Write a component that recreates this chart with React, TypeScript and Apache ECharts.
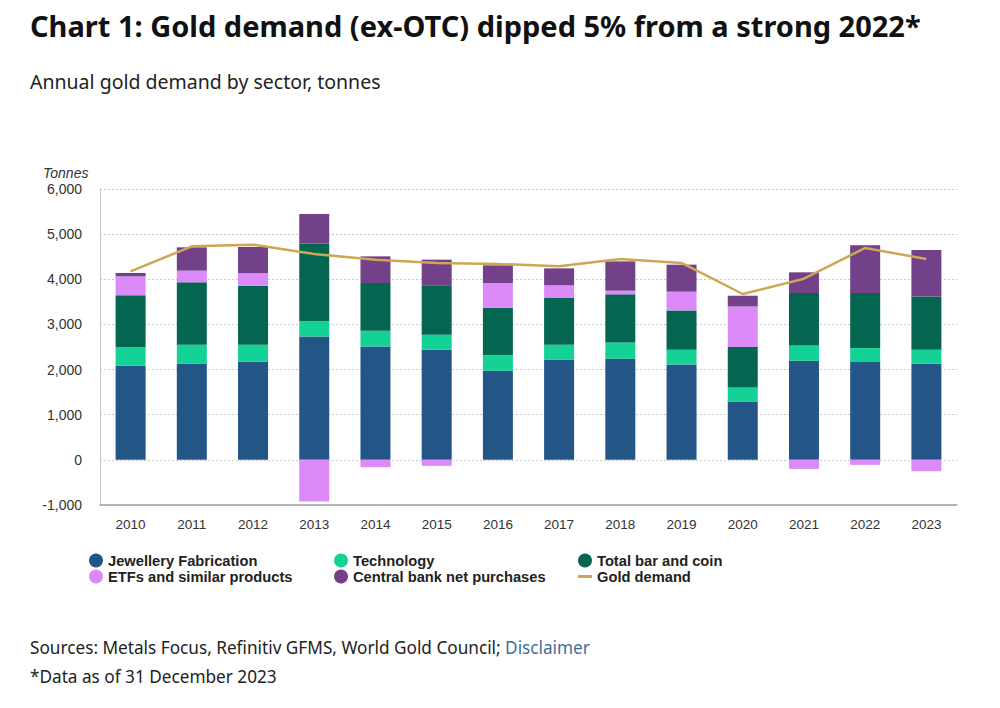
import React, { useEffect, useRef } from "react";
import * as echarts from "echarts";

const years = ["2010","2011","2012","2013","2014","2015","2016","2017","2018","2019","2020","2021","2022","2023"];
const jewellery = [2085, 2136, 2173, 2734, 2513, 2439, 1973, 2217, 2239, 2114, 1293, 2195, 2166, 2129];
const technology = [415, 414, 377, 341, 347, 333, 348, 333, 362, 325, 311, 340, 310, 310];
const barCoin = [1145, 1382, 1308, 1714, 1057, 1094, 1049, 1035, 1065, 872, 894, 1160, 1219, 1182];
const etfs = [420, 259, 273, -924, -162, -133, 547, 281, 81, 414, 902, -200, -111, -251];
const centralBank = [75, 517, 585, 658, 591, 569, 392, 376, 650, 599, 236, 459, 1057, 1029];
const goldDemand = [4176, 4730, 4767, 4560, 4435, 4361, 4339, 4287, 4449, 4361, 3674, 4013, 4694, 4449];

const COLORS = {
  jewellery: "#235687",
  technology: "#14d196",
  barCoin: "#046651",
  etfs: "#db8af8",
  centralBank: "#72418a",
  line: "#cda753",
};

const TITLE = "Chart 1: Gold demand (ex-OTC) dipped 5% from a strong 2022*";
const SUBTITLE = "Annual gold demand by sector, tonnes";
const SOURCE = "Sources: Metals Focus, Refinitiv GFMS, World Gold Council; ";
const DISCLAIMER = "Disclaimer";
const NOTE = "*Data as of 31 December 2023";

export default function App() {
  const ref = useRef<HTMLDivElement>(null);
  useEffect(() => {
    if (!ref.current) return;
    const chart = echarts.init(ref.current, null, { renderer: "svg" });
    const sans = "'Noto Sans', 'Open Sans', sans-serif";
    const arial = "'Liberation Sans', Arial, sans-serif";
    const barSeries = (name: string, data: number[], color: string) => ({
      name,
      type: "bar",
      stack: "total",
      data,
      barWidth: "49%",
      itemStyle: { color },
      emphasis: { disabled: true },
    });
    const legendCommon = {
      orient: "vertical",
      top: 548,
      itemWidth: 14,
      itemHeight: 14,
      itemGap: 1,
      icon: "circle",
      selectedMode: false,
      textStyle: { fontFamily: arial, fontSize: 14.7, fontWeight: "bold", color: "#222" },
    };
    chart.setOption({
      animation: false,
      backgroundColor: "#ffffff",
      grid: { left: 100, right: 43, top: 189, bottom: 203 },
      legend: [
        { ...legendCommon, left: 84, data: ["Jewellery Fabrication", "ETFs and similar products"] },
        { ...legendCommon, left: 329, data: ["Technology", "Central bank net purchases"] },
        {
          ...legendCommon,
          left: 573,
          data: [
            { name: "Total bar and coin", icon: "circle" },
            { name: "Gold demand", icon: "path://M0,0 L14,0 L14,3 L0,3 Z" },
          ],
        },
      ],
      xAxis: {
        type: "category",
        data: years,
        axisLine: { onZero: false, lineStyle: { color: "#a0a0a0", width: 1.5 } },
        axisTick: { show: false },
        axisLabel: { fontFamily: arial, fontSize: 13.5, color: "#333", margin: 12 },
      },
      yAxis: {
        type: "value",
        min: -1000,
        max: 6000,
        interval: 1000,
        axisLine: { show: true, lineStyle: { color: "#c8c8c8", width: 1 } },
        axisTick: { show: false },
        axisLabel: {
          fontFamily: arial,
          fontSize: 14,
          color: "#333",
          margin: 18,
          formatter: (v: number) => (v < 0 ? "-" : "") + Math.abs(v).toLocaleString("en-US"),
        },
        splitLine: { lineStyle: { color: "#c8c8c8", type: [2, 2], width: 1 } },
      },
      series: [
        barSeries("Jewellery Fabrication", jewellery, COLORS.jewellery),
        barSeries("Technology", technology, COLORS.technology),
        barSeries("Total bar and coin", barCoin, COLORS.barCoin),
        barSeries("ETFs and similar products", etfs, COLORS.etfs),
        barSeries("Central bank net purchases", centralBank, COLORS.centralBank),
        {
          name: "Gold demand",
          type: "line",
          data: goldDemand,
          symbol: "none",
          itemStyle: { color: COLORS.line },
          lineStyle: { color: COLORS.line, width: 2.5 },
          z: 5,
        },
      ],
      graphic: [
        {
          type: "text",
          left: 30,
          top: 11,
          style: { text: TITLE, fontFamily: sans, fontSize: 29, fontWeight: "bold", fill: "#111" },
        },
        {
          type: "text",
          left: 30,
          top: 71,
          style: { text: SUBTITLE, fontFamily: sans, fontSize: 19.5, fill: "#222" },
        },
        {
          type: "text",
          left: 43,
          top: 166,
          style: { text: "Tonnes", fontFamily: arial, fontSize: 14, fontStyle: "italic", fill: "#333" },
        },
        {
          type: "text",
          left: 30,
          top: 639,
          style: {
            text: "{a|" + SOURCE + "}{b|" + DISCLAIMER + "}",
            rich: {
              a: { fontFamily: sans, fontSize: 17.2, fill: "#222", color: "#222" },
              b: { fontFamily: sans, fontSize: 17.2, fill: "#3f6d99", color: "#3f6d99" },
            },
          },
        },
        {
          type: "text",
          left: 30,
          top: 668,
          style: { text: NOTE, fontFamily: sans, fontSize: 17.2, fill: "#222" },
        },
      ],
    });
    return () => chart.dispose();
  }, []);
  return <div ref={ref} style={{ position: "fixed", left: 0, top: 0, width: 1000, height: 708 }} />;
}
